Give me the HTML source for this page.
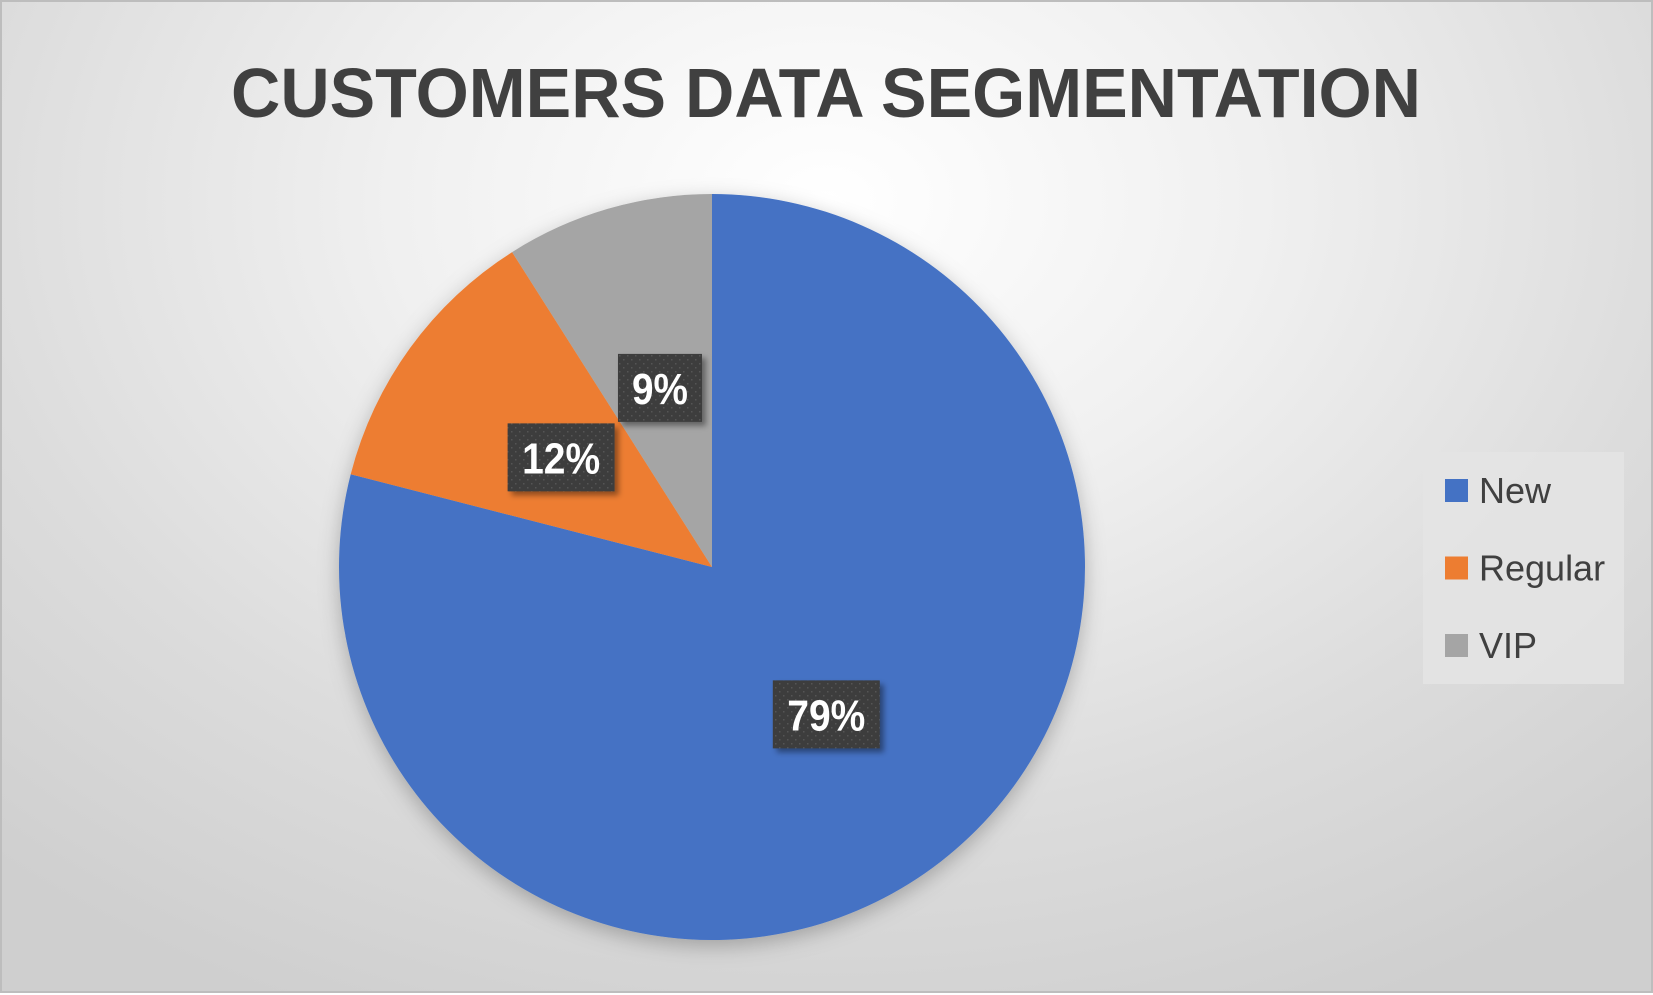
<!DOCTYPE html>
<html><head><meta charset="utf-8"><style>
html,body{margin:0;padding:0;}
body{width:1653px;height:993px;overflow:hidden;}
#chart{position:relative;width:1653px;height:993px;box-sizing:border-box;border:2px solid #bdbdbd;
background:radial-gradient(ellipse 75% 90% at 50% 20%, #ffffff 0%, #f0f0f0 35%, #dcdcdc 70%, #cfcfcf 100%);}
svg{position:absolute;left:0;top:0;}
</style></head><body>
<div id="chart">
<svg id="svg" width="1653" height="993">
<defs>
<pattern id="dots" width="8" height="8" patternUnits="userSpaceOnUse">
<rect width="8" height="8" fill="#3d3d3d"/><rect x="1" y="1" width="1.5" height="1.5" fill="#555"/><rect x="5" y="5" width="1.5" height="1.5" fill="#555"/>
</pattern>
<filter id="sh" x="-30%" y="-30%" width="160%" height="160%"><feDropShadow dx="4" dy="4" stdDeviation="3" flood-color="#000" flood-opacity="0.4"/></filter>
<filter id="psh" x="-20%" y="-20%" width="140%" height="140%"><feDropShadow dx="0" dy="6" stdDeviation="10" flood-color="#000" flood-opacity="0.25"/></filter>
</defs>
<text x="824" y="115" text-anchor="middle" font-family="Liberation Sans, sans-serif" font-weight="bold" font-size="70" fill="#404040" textLength="1190" lengthAdjust="spacingAndGlyphs">CUSTOMERS DATA SEGMENTATION</text>
<g id="slices" filter="url(#psh)"></g>
<g id="labels"></g>
<rect x="1421" y="450" width="201" height="232" fill="#e4e4e4" opacity="0.85"/>
<g id="legend"></g>
</svg>
</div>
<script>
const categories = ["New", "Regular", "VIP"];
const values = [79, 12, 9];
const labels = ["79%", "12%", "9%"];
const colors = ["#4472C4", "#ED7D31", "#A5A5A5"];
const NS = "http://www.w3.org/2000/svg";
const cx = 710, cy = 565, r = 373;
const total = values.reduce((a,b)=>a+b,0);
function pt(angle, rad){ return [cx + rad*Math.sin(angle), cy - rad*Math.cos(angle)]; }
const slicesG = document.getElementById('slices');
const labelsG = document.getElementById('labels');
const legendG = document.getElementById('legend');
let a0 = 0;
values.forEach((v,i)=>{
  const a1 = a0 + v/total*2*Math.PI;
  const p0 = pt(a0,r), p1 = pt(a1,r);
  const large = (a1-a0) > Math.PI ? 1 : 0;
  const path = document.createElementNS(NS,'path');
  path.setAttribute('d', `M${cx},${cy} L${p0[0]},${p0[1]} A${r},${r} 0 ${large} 1 ${p1[0]},${p1[1]} Z`);
  path.setAttribute('fill', colors[i]);
  
  
  slicesG.appendChild(path);
  const mid = (a0+a1)/2;
  const lp = pt(mid, r*0.5);
  const w = labels[i].length > 2 ? 107 : 84, h = 68;
  const g = document.createElementNS(NS,'g');
  
  
  const rect = document.createElementNS(NS,'rect');
  rect.setAttribute('x', lp[0]-w/2); rect.setAttribute('y', lp[1]-h/2);
  rect.setAttribute('width', w); rect.setAttribute('height', h);
  rect.setAttribute('fill', 'url(#dots)'); rect.setAttribute('filter', 'url(#sh)');
  g.appendChild(rect);
  const t = document.createElementNS(NS,'text');
  t.setAttribute('x', lp[0]); t.setAttribute('y', lp[1]+16);
  t.setAttribute('text-anchor','middle');
  t.setAttribute('font-family','Liberation Sans, sans-serif');
  t.setAttribute('font-weight','bold'); t.setAttribute('font-size','44');
  t.setAttribute('fill','#ffffff');
  t.setAttribute('textLength', labels[i].length > 2 ? 78 : 56);
  t.setAttribute('lengthAdjust','spacingAndGlyphs');
  t.textContent = labels[i];
  g.appendChild(t);
  labelsG.appendChild(g);
  a0 = a1;
});
categories.forEach((c,i)=>{
  const y = 477 + i*77.5;
  const g = document.createElementNS(NS,'g');
  
  
  const sq = document.createElementNS(NS,'rect');
  sq.setAttribute('x',1443); sq.setAttribute('y',y); sq.setAttribute('width',23); sq.setAttribute('height',23);
  sq.setAttribute('fill',colors[i]);
  g.appendChild(sq);
  const t = document.createElementNS(NS,'text');
  t.setAttribute('x',1477); t.setAttribute('y',y+24);
  t.setAttribute('font-family','Liberation Sans, sans-serif');
  t.setAttribute('font-size','36'); t.setAttribute('fill','#404040');
  t.textContent = c;
  g.appendChild(t);
  legendG.appendChild(g);
});
</script>
</body></html>
